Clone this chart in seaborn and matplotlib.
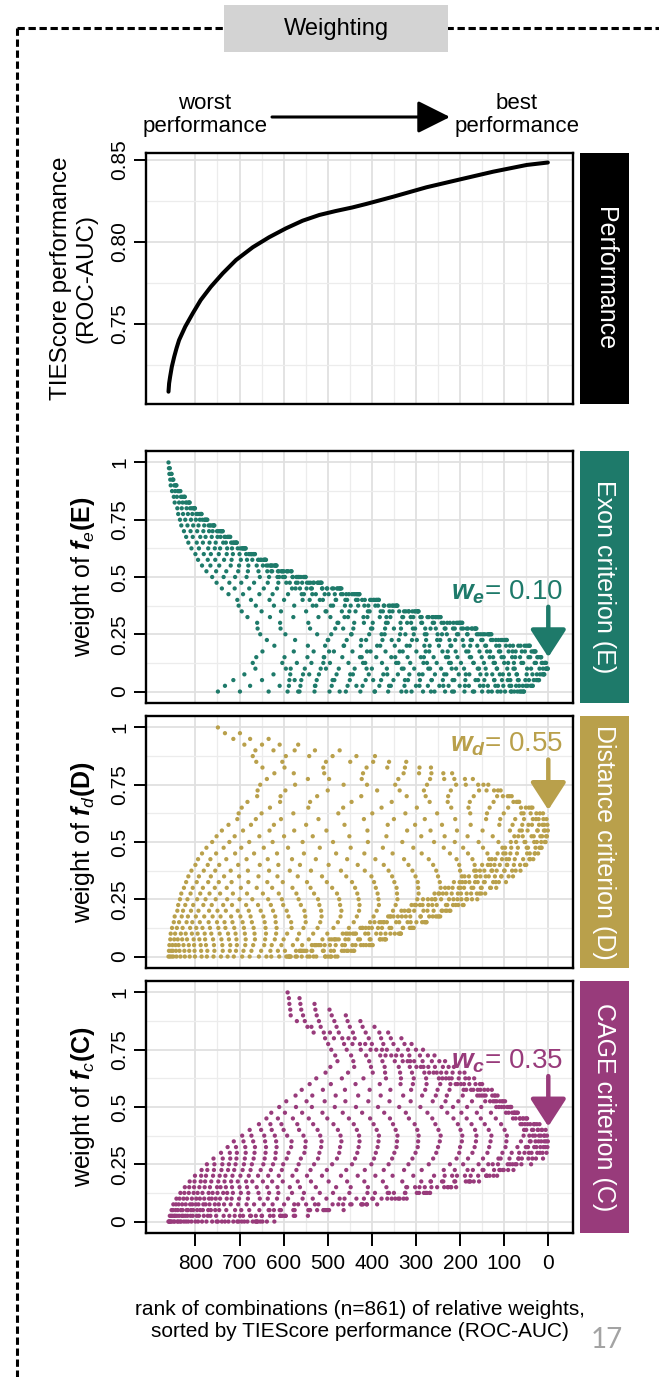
import numpy as np
import pandas as pd
import matplotlib
matplotlib.use("Agg")
import matplotlib.pyplot as plt
import seaborn as sns
from matplotlib.lines import Line2D
from matplotlib.patches import Rectangle, FancyArrowPatch
from matplotlib.ticker import FixedLocator

# ---------------------------------------------------------------------------
# Data
# ---------------------------------------------------------------------------
# TIEScore ROC-AUC along the ranking of weight combinations (rank 861 = worst)
PERF_RANK = [861, 859.6, 857.3, 853.4, 848, 842.8, 837, 823, 806, 788, 765,
             738, 708, 670, 633, 595, 557, 519, 482, 444, 413, 352, 276, 200,
             125, 49, 1]
PERF_AUC = [0.7087, 0.7138, 0.7179, 0.7240, 0.7301, 0.7352, 0.7402, 0.7484,
            0.7565, 0.7646, 0.7727, 0.7809, 0.7890, 0.7968, 0.8029, 0.8083,
            0.8130, 0.8165, 0.8189, 0.8211, 0.8232, 0.8276, 0.8334, 0.8382,
            0.8429, 0.8470, 0.8485]

# relative weights are varied in steps of 0.025 and always sum to 1 (n = 861)
WEIGHT_STEP = 0.025
N_STEPS = 40

# performance surface over the weight simplex, described per exon weight:
# best ROC-AUC reachable for a given exon weight, the best distance share
# wd / (wd + wc) at that exon weight, and how fast ROC-AUC drops when the
# share moves towards CAGE (quadratic) or towards distance (cubic)
EXON_KNOTS = [0.0, 0.1, 0.2, 0.3, 0.4, 0.5, 0.6, 0.7, 0.8, 0.9, 1.0]
ROW_BEST_AUC = [0.8470, 0.8485, 0.8473, 0.8400, 0.8260, 0.8125, 0.7983,
                0.7834, 0.7620, 0.7350, 0.7080]
BEST_DIST_SHARE = [0.60, 0.611, 0.54, 0.46, 0.38, 0.30, 0.18, 0.08, 0.0, 0.0, 0.0]
CAGE_SIDE_COEF = [0.106, 0.106, 0.105, 0.100, 0.085, 0.067, 0.050, 0.040,
                  0.030, 0.030, 0.030]
DIST_SIDE_COEF = [1.03, 0.85, 0.435, 0.26, 0.147, 0.103, 0.065, 0.045,
                  0.025, 0.015, 0.0]

# optimal weights marked in the panels
BEST_WEIGHTS = {"we": 0.10, "wd": 0.55, "wc": 0.35}

EXON_COLOR = "#1E7A6A"
DIST_COLOR = "#B9A04B"
CAGE_COLOR = "#983B7B"

# ---------------------------------------------------------------------------
# Weight combinations and their rank
# ---------------------------------------------------------------------------
idx = [(i, j) for i in range(N_STEPS + 1) for j in range(N_STEPS + 1 - i)]
we = np.array([i for i, _ in idx]) * WEIGHT_STEP
wd = np.array([j for _, j in idx]) * WEIGHT_STEP
wc = np.round(1.0 - we - wd, 6)

rest = wd + wc
share = np.divide(wd, rest, out=np.full_like(wd, np.nan), where=rest > 1e-9)
delta = share - np.interp(we, EXON_KNOTS, BEST_DIST_SHARE)
loss = np.where(delta > 0,
                np.interp(we, EXON_KNOTS, DIST_SIDE_COEF) * np.abs(delta) ** 3,
                np.interp(we, EXON_KNOTS, CAGE_SIDE_COEF) * delta ** 2)
loss = np.nan_to_num(loss)
auc = np.interp(we, EXON_KNOTS, ROW_BEST_AUC) - loss

order = np.argsort(-auc, kind="stable")
rank = np.empty(len(auc))
rank[order] = np.arange(1, len(auc) + 1)

combos = pd.DataFrame({"rank": rank, "we": we, "wd": wd, "wc": wc})
perf = pd.DataFrame({"rank": PERF_RANK, "auc": PERF_AUC})

# ---------------------------------------------------------------------------
# Figure
# ---------------------------------------------------------------------------
sns.set_theme(style="white")
plt.rcParams["font.family"] = ["Liberation Sans", "DejaVu Sans"]
plt.rcParams["mathtext.fontset"] = "custom"
plt.rcParams["mathtext.rm"] = "Liberation Sans"
plt.rcParams["mathtext.it"] = "Liberation Sans:italic"
plt.rcParams["mathtext.bf"] = "Liberation Sans:bold"
plt.rcParams["mathtext.bfit"] = "Liberation Sans:italic:bold"

W, H = 659, 1377
fig = plt.figure(figsize=(W / 100, H / 100), dpi=100)
fig.patch.set_facecolor("white")


def axes_px(x0, y0, x1, y1):
    return fig.add_axes([x0 / W, 1 - y1 / H, (x1 - x0) / W, (y1 - y0) / H])


AX_X = (146, 573)
STRIP_X = (580, 629)
PANEL_Y = [(153, 404), (451, 703), (716, 968), (981, 1233)]
X_MAJOR = list(range(0, 801, 100))
X_MINOR = list(range(50, 800, 100))


def style_axes(ax, yticks, ylabels, yminor, bottom):
    ax.set_xlim(912, -56)
    ax.xaxis.set_major_locator(FixedLocator(X_MAJOR))
    ax.xaxis.set_minor_locator(FixedLocator(X_MINOR))
    ax.set_yticks(yticks, ylabels, rotation=90, va="center")
    ax.yaxis.set_minor_locator(FixedLocator(yminor))
    ax.grid(True, which="major", color="#e0e0e0", linewidth=1.3)
    ax.grid(True, which="minor", color="#ececec", linewidth=0.9)
    ax.set_axisbelow(True)
    ax.set_facecolor("white")
    for sp in ax.spines.values():
        sp.set_visible(True)
        sp.set_color("black")
        sp.set_linewidth(1.7)
    ax.tick_params(axis="y", which="major", left=True, length=9, width=1.4,
                   color="black", labelsize=15, labelcolor="black", pad=3)
    ax.tick_params(which="minor", length=0)
    if bottom:
        ax.set_xticks(X_MAJOR, [str(v) for v in X_MAJOR])
        ax.tick_params(axis="x", which="major", bottom=True, length=9,
                       width=1.4, color="black", labelsize=15,
                       labelcolor="black", pad=6)
    else:
        ax.tick_params(axis="x", which="both", bottom=False,
                       labelbottom=False)
    ax.set_xlabel("")


def strip(y0, y1, label, color):
    sax = axes_px(STRIP_X[0], y0, STRIP_X[1], y1)
    sax.set_facecolor(color)
    sax.set_xticks([])
    sax.set_yticks([])
    for sp in sax.spines.values():
        sp.set_visible(False)
    sax.text(0.5, 0.5, label, rotation=270, ha="center", va="center",
             color="white", fontsize=18, transform=sax.transAxes)


# --- performance panel
ax0 = axes_px(AX_X[0], PANEL_Y[0][0], AX_X[1], PANEL_Y[0][1])
sns.lineplot(data=perf, x="rank", y="auc", ax=ax0, color="black",
             linewidth=2.9)
ax0.set_ylim(0.7012, 0.8543)
style_axes(ax0, [0.75, 0.80, 0.85], ["0.75", "0.80", "0.85"],
           [0.725, 0.775, 0.825], bottom=False)
ax0.set_ylabel("TIEScore performance\n(ROC-AUC)", fontsize=17.5,
               linespacing=1.2, color="black")
ax0.yaxis.label.set_va("center")
ax0.yaxis.set_label_coords((74 - AX_X[0]) / (AX_X[1] - AX_X[0]), 0.5)
strip(*PANEL_Y[0], "Performance", "black")

# --- weight panels
weight_panels = [
    ("we", EXON_COLOR, r"weight of $\mathbfit{f}_{e}\mathbf{(E)}$",
     "Exon criterion (E)", r"$\mathbfit{w}_{\mathbfit{e}}$= 0.10", 0.05),
    ("wd", DIST_COLOR, r"weight of $\mathbfit{f}_{d}\mathbf{(D)}$",
     "Distance criterion (D)", r"$\mathbfit{w}_{\mathbfit{d}}$= 0.55", 0.09),
    ("wc", CAGE_COLOR, r"weight of $\mathbfit{f}_{c}\mathbf{(C)}$",
     "CAGE criterion (C)", r"$\mathbfit{w}_{\mathbfit{c}}$= 0.35", 0.065),
]

for k, (col, color, ylab, strip_lab, note, gap) in enumerate(weight_panels):
    y0, y1 = PANEL_Y[k + 1]
    ax = axes_px(AX_X[0], y0, AX_X[1], y1)
    sns.scatterplot(data=combos, x="rank", y=col, ax=ax, color=color, s=9.5,
                    linewidth=0, edgecolor="none", legend=False)
    ax.set_ylim(-0.05, 1.05)
    style_axes(ax, [0, 0.25, 0.5, 0.75, 1], ["0", "0.25", "0.5", "0.75", "1"],
               [0.125, 0.375, 0.625, 0.875], bottom=(k == 2))
    ax.set_ylabel(ylab, fontsize=18, color="black")
    ax.yaxis.label.set_va("center")
    ax.yaxis.set_label_coords((83 - AX_X[0]) / (AX_X[1] - AX_X[0]), 0.5)

    best = BEST_WEIGHTS[col]
    best_rank = combos["rank"].min()
    tip = best + gap
    start = tip + 0.22
    ax.annotate("", xy=(best_rank - 1, tip), xytext=(best_rank - 1, start),
                arrowprops=dict(arrowstyle="-|>,head_length=17,head_width=11",
                                mutation_scale=1, color=color, lw=3.2,
                                shrinkA=0, shrinkB=0))
    ax.text(-33, start + 0.065, note, ha="right", va="center", color=color,
            fontsize=20)
    strip(y0, y1, strip_lab, color)

    if k == 2:
        ax.set_xlabel("rank of combinations (n=861) of relative weights,\n"
                      "sorted by TIEScore performance (ROC-AUC)",
                      fontsize=15, color="black", linespacing=1.2)
        ax.xaxis.label.set_va("center")
        ax.xaxis.set_label_coords(0.5, (y1 - 1320.5) / (y1 - y0))

# ---------------------------------------------------------------------------
# Frame, header and direction arrow
# ---------------------------------------------------------------------------
dash = (0, (2.4, 1.2))
fig.add_artist(Line2D([17 / W, 1.0], [1 - 28 / H, 1 - 28 / H],
                      transform=fig.transFigure, color="black", lw=2.2,
                      linestyle=dash))
fig.add_artist(Line2D([17 / W, 17 / W], [1 - 28 / H, 0.0],
                      transform=fig.transFigure, color="black", lw=2.2,
                      linestyle=dash))
fig.add_artist(Rectangle((224 / W, 1 - 52 / H), (448 - 224) / W, 47 / H,
                         transform=fig.transFigure, facecolor="#d3d3d3",
                         edgecolor="none", zorder=3))
fig.text(336 / W, 1 - 29 / H, "Weighting", ha="center", va="center",
         fontsize=17, color="black", zorder=4)

fig.text(205 / W, 1 - 115 / H, "worst\nperformance", ha="center",
         va="center", fontsize=16, linespacing=1.15, color="black")
fig.text(517 / W, 1 - 115 / H, "best\nperformance", ha="center",
         va="center", fontsize=16, linespacing=1.15, color="black")
fig.add_artist(FancyArrowPatch((272 / W, 1 - 117 / H), (450 / W, 1 - 117 / H),
                               transform=fig.transFigure,
                               arrowstyle="-|>,head_length=20,head_width=10",
                               mutation_scale=1, color="black", lw=2.2,
                               shrinkA=0, shrinkB=0))

fig.text(607 / W, 1 - 1340 / H, "17", ha="center", va="center", fontsize=20,
         color="#a3a3a3", family=["Lato", "DejaVu Sans"])

fig.savefig("out.png", dpi=100, facecolor="white")
